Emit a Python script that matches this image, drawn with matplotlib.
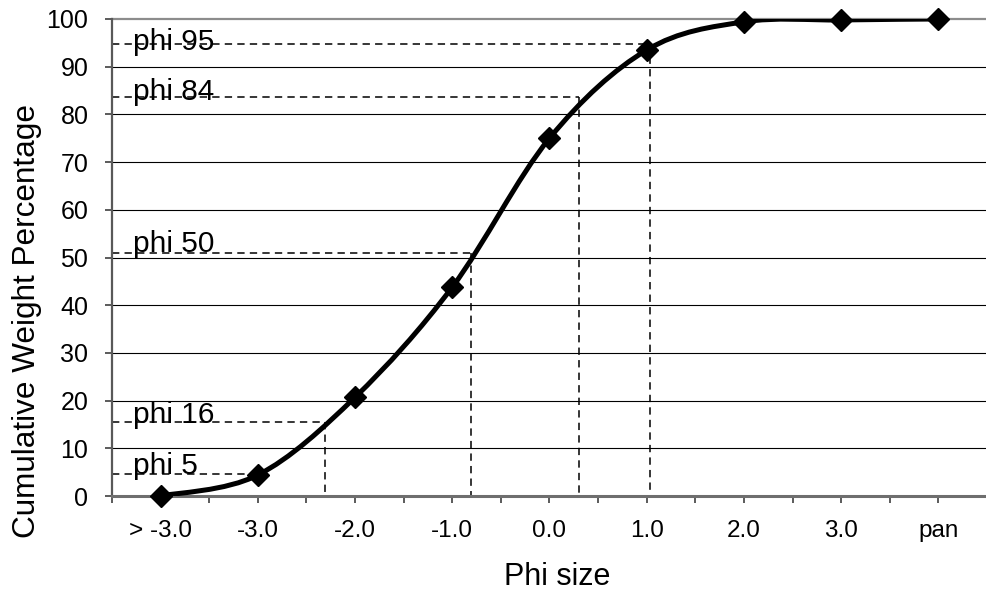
import matplotlib

matplotlib.use("Agg")
import matplotlib.pyplot as plt
from matplotlib.path import Path
from matplotlib.patches import PathPatch

# --- data -------------------------------------------------------------------
categories = ["> -3.0", "-3.0", "-2.0", "-1.0", "0.0", "1.0", "2.0", "3.0", "pan"]
cum_pct = [0.0, 4.4, 20.7, 43.8, 75.0, 93.5, 99.4, 99.8, 100.0]

# phi percentile read-offs: label, percentage, position on the category axis
phi_labels = ["phi 5", "phi 16", "phi 50", "phi 84", "phi 95"]
phi_pct = [4.6, 15.6, 50.9, 83.7, 94.7]
phi_pos = [None, 1.69, 3.19, 4.30, 5.03]

# where each label's baseline sits (they were placed by hand in the original)
label_base = [4.7, 15.2, 51.2, 83.0, 93.4]

plt.rcParams["font.family"] = ["Liberation Sans", "DejaVu Sans"]
DASH = (0, (4.8, 3.4))


def smooth_path(xs, ys):
    # Excel-style smoothed line: cubic Bezier, Catmull-Rom control points
    pts = list(zip(xs, ys))
    verts = [pts[0]]
    codes = [Path.MOVETO]
    n = len(pts)
    for i in range(n - 1):
        p0 = pts[max(i - 1, 0)]
        p1 = pts[i]
        p2 = pts[i + 1]
        p3 = pts[min(i + 2, n - 1)]
        c1 = (p1[0] + (p2[0] - p0[0]) / 6, p1[1] + (p2[1] - p0[1]) / 6)
        c2 = (p2[0] - (p3[0] - p1[0]) / 6, p2[1] - (p3[1] - p1[1]) / 6)
        verts += [c1, c2, p2]
        codes += [Path.CURVE4] * 3
    return Path(verts, codes)


fig = plt.figure(figsize=(9.87, 5.91), dpi=100)
ax = fig.add_axes([112 / 987, 1 - 496 / 591, 1 - 112 / 987, 477 / 591])

x = list(range(len(categories)))
ax.set_xlim(-0.5, 8.4)
ax.set_ylim(0, 100)

# gridlines
for yv in range(10, 100, 10):
    ax.axhline(yv, color="black", lw=0.8, zorder=1)
ax.axhline(100, color="#8c8c8c", lw=1.6, zorder=1, clip_on=False)

# phi dashed read-off lines
for lab, pct, pos, yb in zip(phi_labels, phi_pct, phi_pos, label_base):
    xend = pos if pos is not None else 0.93
    ax.plot([-0.5, xend], [pct, pct], ls=DASH, color="black", lw=1.1,
            zorder=2)
    if pos is not None:
        ax.plot([pos, pos], [pct, 0], ls=DASH, color="black", lw=1.1,
                zorder=2)
    ax.text(-0.285, yb, lab, ha="left", va="baseline", fontsize=21.5,
            zorder=3)

# smoothed cumulative curve + markers
ax.add_patch(PathPatch(smooth_path(x, cum_pct), facecolor="none",
                       edgecolor="black", lw=3.6, zorder=4, capstyle="round"))
ax.plot(x, cum_pct, ls="none", marker="D", ms=11.5, color="black", zorder=5,
        clip_on=False)

# axes styling
for s in ("top", "right"):
    ax.spines[s].set_visible(False)
ax.spines["left"].set_color("#595959")
ax.spines["left"].set_linewidth(1.6)
ax.spines["bottom"].set_color("#6e6e6e")
ax.spines["bottom"].set_linewidth(2.2)

ax.set_xticks(x)
ax.set_xticklabels(categories, fontsize=17.5)
ax.set_xticks([i + 0.5 for i in range(-1, 9)], minor=True)
ax.tick_params(axis="x", which="both", direction="out", length=5, width=1.2,
               color="#404040", pad=12)
ax.set_yticks(range(0, 101, 10))
ax.tick_params(axis="y", direction="out", length=5, width=1.2,
               color="#404040", labelsize=18, pad=12)

fig.text(557 / 987, 1 - 585 / 591, "Phi size", ha="center", va="baseline",
         fontsize=22)
fig.text(35 / 987, 1 - 321 / 591, "Cumulative Weight Percentage",
         ha="center", va="baseline", rotation=90, rotation_mode="anchor",
         fontsize=22.7)

fig.savefig("out.png", dpi=100, facecolor="white")
